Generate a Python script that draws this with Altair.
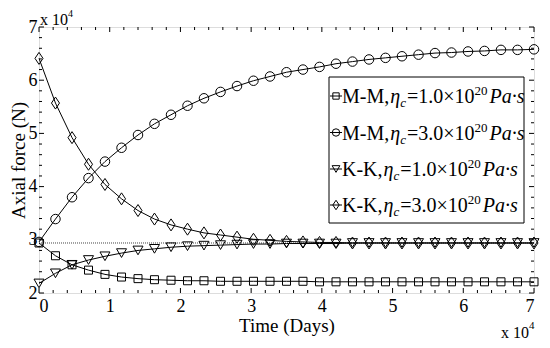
import altair as alt
import pandas as pd

# ---------------- data (time in units of 1e4 days, force in units of 1e4 N) -------------
time_e4 = [0.0, 0.233, 0.467, 0.7, 0.933, 1.167, 1.4, 1.633, 1.867, 2.1, 2.333,
           2.567, 2.8, 3.033, 3.267, 3.5, 3.733, 3.967, 4.2, 4.433, 4.667,
           4.9, 5.133, 5.367, 5.6, 5.833, 6.067, 6.3, 6.533, 6.767, 7.0]
mm_eta1 = [2.94, 2.70, 2.53, 2.43, 2.35, 2.30, 2.27, 2.25, 2.24, 2.23, 2.23,
           2.22, 2.22, 2.22, 2.22, 2.22, 2.22, 2.21, 2.21, 2.21, 2.21,
           2.21, 2.21, 2.21, 2.21, 2.21, 2.21, 2.21, 2.21, 2.21, 2.21]
mm_eta3 = [2.96, 3.39, 3.80, 4.16, 4.47, 4.73, 4.97, 5.18, 5.35, 5.52, 5.66,
           5.78, 5.89, 5.99, 6.07, 6.15, 6.20, 6.25, 6.31, 6.35, 6.39,
           6.42, 6.45, 6.48, 6.51, 6.52, 6.54, 6.55, 6.57, 6.57, 6.58]
kk_eta1 = [2.18, 2.37, 2.53, 2.62, 2.69, 2.75, 2.80, 2.83, 2.86, 2.88, 2.89,
           2.90, 2.91, 2.92, 2.92, 2.93, 2.93, 2.93, 2.93, 2.94, 2.94,
           2.94, 2.94, 2.94, 2.94, 2.94, 2.94, 2.94, 2.94, 2.94, 2.94]
kk_eta3 = [6.41, 5.57, 4.92, 4.42, 4.04, 3.77, 3.55, 3.39, 3.28, 3.20, 3.13,
           3.09, 3.05, 3.01, 2.99, 2.97, 2.96, 2.95, 2.95, 2.94, 2.94,
           2.94, 2.94, 2.94, 2.94, 2.94, 2.94, 2.94, 2.94, 2.94, 2.94]
ref_level = 2.94
series_names = ["MM1", "MM3", "KK1", "KK3"]
series_values = [mm_eta1, mm_eta3, kk_eta1, kk_eta3]
legend_prefix = ["M-M,", "M-M,", "K-K,", "K-K,"]
legend_coef = ["=1.0\u00d710", "=3.0\u00d710", "=1.0\u00d710", "=3.0\u00d710"]
x_major = [0, 1, 2, 3, 4, 5, 6, 7]
y_major = [2, 3, 4, 5, 6, 7]

# ---------------- styling ----------------
FONT = "Liberation Serif"
W, H = 495, 266
DIAMOND = "M0,-1L0.67,0L0,1L-0.67,0Z"
shapes = ["square", "circle", "triangle-down", DIAMOND]
msizes = [64, 90, 100, 144]
leg_sizes = [40, 55, 60, 90]

rows = []
for name, vals, sz in zip(series_names, series_values, msizes):
    for t, v in zip(time_e4, vals):
        rows.append({"t": t, "f": v, "series": name, "msize": sz})
df = pd.DataFrame(rows)

xs = alt.Scale(domain=[0, 7], nice=False, zero=False)
ys = alt.Scale(domain=[2, 7], nice=False, zero=False)
xaxis = alt.Axis(values=x_major, format="d", grid=False, domain=False, ticks=False,
                 tickSize=0, labelPadding=4, labelFont=FONT, labelFontSize=18,
                 labelColor="black", titleFont=FONT, titleFontSize=19,
                 titleFontWeight="normal", titleColor="black", titleY=38,
                 titleBaseline="alphabetic")
yaxis = alt.Axis(values=y_major, format="d", grid=False, domain=False, ticks=False,
                 tickSize=0, labelPadding=2, labelFont=FONT, labelFontSize=18,
                 labelColor="black", titleFont=FONT, titleFontSize=19,
                 titleFontWeight="normal", titleColor="black", titleX=-15,
                 titleY=H / 2, titleBaseline="alphabetic", titleAngle=270)


def X(field):
    return alt.X(field, type="quantitative", scale=xs, axis=xaxis, title="Time (Days)")


def Y(field):
    return alt.Y(field, type="quantitative", scale=ys, axis=yaxis, title="Axial force (N)")


one = pd.DataFrame({"d": [0]})
layers = []

# reference dotted line
ref_df = pd.DataFrame({"t": [0, 7], "f": [ref_level, ref_level]})
layers.append(alt.Chart(ref_df).mark_line(color="#444", strokeWidth=1, strokeDash=[1, 1])
              .encode(x=X("t"), y=Y("f")))

# lines
layers.append(alt.Chart(df).mark_line(color="black", strokeWidth=1)
              .encode(x=X("t"), y=Y("f"), detail="series:N"))
# markers
layers.append(alt.Chart(df).mark_point(filled=False, color="black", strokeWidth=1, opacity=1)
              .encode(x=X("t"), y=Y("f"),
                      shape=alt.Shape("series:N", scale=alt.Scale(domain=series_names, range=shapes),
                                      legend=None),
                      size=alt.Size("msize:Q", scale=None)))

# inward ticks
x_minor = [i + k / 5 for i in range(7) for k in range(1, 5)]
y_minor = [i + k / 5 for i in range(2, 7) for k in range(1, 5)]
for vals, ln in ((x_major, 5), (x_minor, 3)):
    tdf = pd.DataFrame({"v": vals})
    layers.append(alt.Chart(tdf).mark_rule(color="black", strokeWidth=1)
                  .encode(x=X("v"), y=alt.value(H), y2=alt.value(H - ln)))
    layers.append(alt.Chart(tdf).mark_rule(color="black", strokeWidth=1)
                  .encode(x=X("v"), y=alt.value(0), y2=alt.value(ln)))
for vals, ln in ((y_major, 5), (y_minor, 3)):
    tdf = pd.DataFrame({"v": vals})
    layers.append(alt.Chart(tdf).mark_rule(color="black", strokeWidth=1)
                  .encode(y=Y("v"), x=alt.value(0), x2=alt.value(ln)))
    layers.append(alt.Chart(tdf).mark_rule(color="black", strokeWidth=1)
                  .encode(y=Y("v"), x=alt.value(W), x2=alt.value(W - ln)))


def txt(s, x, y, size, style="normal"):
    return (alt.Chart(one).mark_text(text=s, align="left", baseline="alphabetic", font=FONT,
                                     fontSize=size, fontStyle=style, color="black")
            .encode(x=alt.value(x), y=alt.value(y)))


# multiplier labels
layers.append(txt("x 10", 1, -2, 16))
layers.append(txt("4", 29, -10, 10))
layers.append(txt("x 10", 462, 311, 16))
layers.append(txt("4", 490, 302, 11))

# manual legend
layers.append(alt.Chart(one).mark_rect(fill="white", stroke="black", strokeWidth=1)
              .encode(x=alt.value(290), x2=alt.value(485), y=alt.value(50), y2=alt.value(196)))
WID = {"M": 0.889, "K": 0.722, "-": 0.333, ",": 0.25, "=": 0.564, ".": 0.25,
       "\u00d7": 0.564, "0": 0.5, "1": 0.5, "2": 0.5, "3": 0.5}


def width(s, size):
    return sum(WID.get(c, 0.5) for c in s) * size


F, S = 20, 13
baselines = [76, 112.5, 149, 185]
for i in range(4):
    b = baselines[i]
    yc = b - 7
    layers.append(alt.Chart(one).mark_rule(color="black", strokeWidth=1)
                  .encode(x=alt.value(291), x2=alt.value(303), y=alt.value(yc)))
    layers.append(alt.Chart(one).mark_point(filled=False, color="black", strokeWidth=1,
                                            opacity=1, shape=shapes[i], size=leg_sizes[i])
                  .encode(x=alt.value(297), y=alt.value(yc)))
    x = 303
    layers.append(txt(legend_prefix[i], x, b, F))
    x += width(legend_prefix[i], F) + 1
    layers.append(txt("\u03b7", x, b, F, "italic"))
    x += 0.5 * F
    layers.append(txt("c", x, b + 4, S, "italic"))
    x += 0.444 * S + 1
    layers.append(txt(legend_coef[i], x, b, F))
    x += width(legend_coef[i], F)
    layers.append(txt("20", x, b - 8, S))
    x += 1.0 * S + 2
    layers.append(txt("Pa\u00b7s", x, b, F, "italic"))

chart = (alt.layer(*layers)
         .properties(width=W, height=H,
                     autosize=alt.AutoSizeParams(type="none"),
                     padding={"left": 31, "top": 19, "right": 8, "bottom": 47})
         .configure_view(stroke="black", strokeWidth=1)
         .configure_axis(labelFont=FONT, titleFont=FONT)
         .configure(background="white"))

chart.save("out.html", embed_options={"renderer": "svg", "actions": False})
